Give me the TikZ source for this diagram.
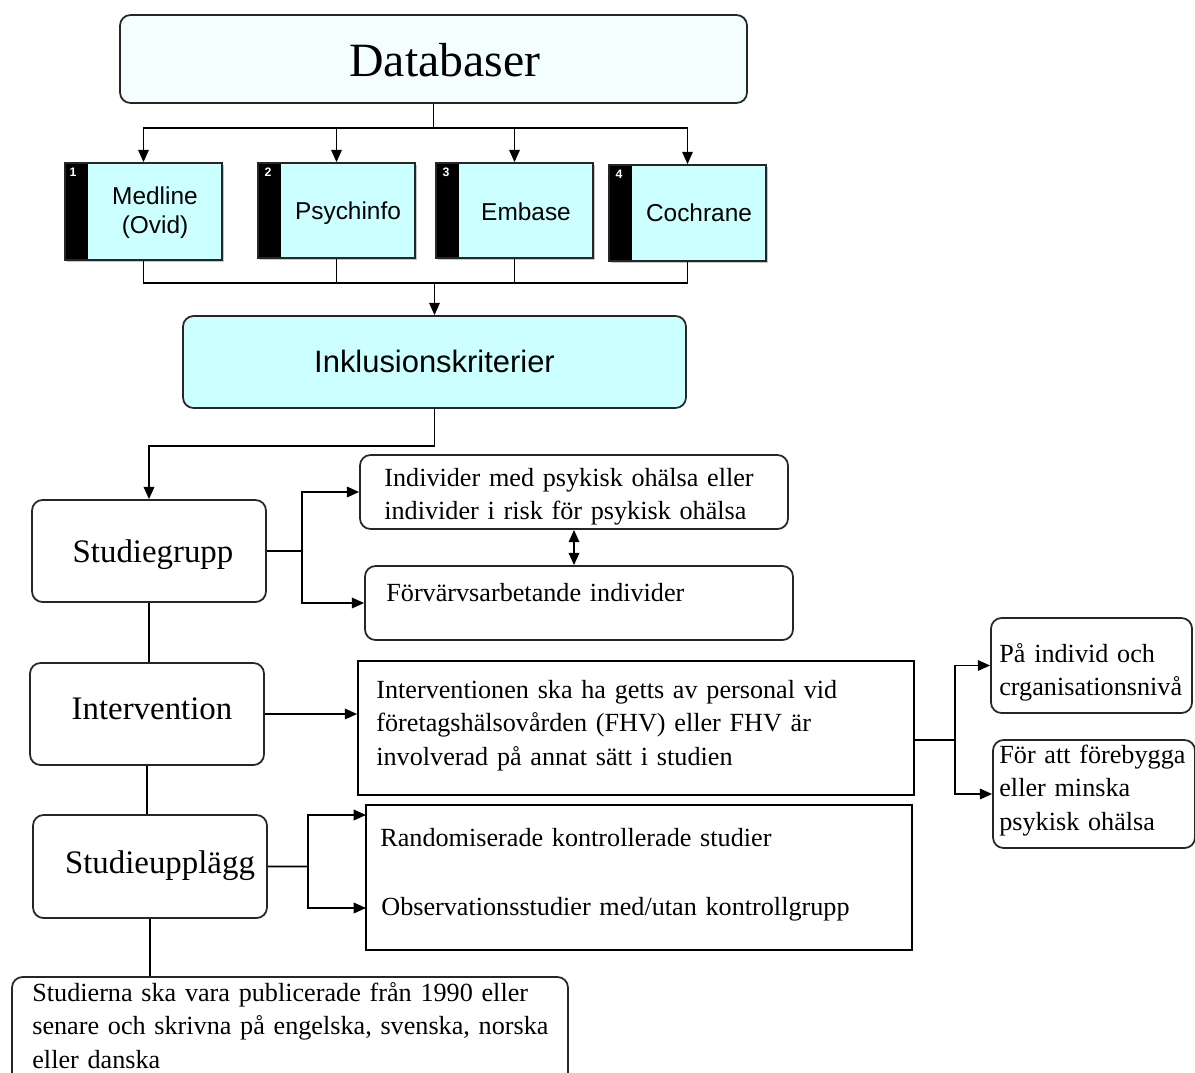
\documentclass[tikz,border=0pt]{standalone}
\usepackage{fontspec}
\setmainfont{Liberation Serif}[WordSpace=0.85]
\setsansfont{Liberation Sans}
\usetikzlibrary{fit,arrows.meta,shadows}

\definecolor{dbcyan}{RGB}{204,255,255}
\definecolor{topcyan}{RGB}{243,255,255}

\begin{document}
\begin{tikzpicture}[x=0.02cm, y=-0.02cm, >={Triangle[length=7pt,width=6pt]},
		rbox/.style={draw=black!85, line width=1pt, rounded corners=6pt, inner sep=0pt},
		sbox/.style={draw=black, line width=1pt, inner sep=0pt},
		dbbox/.style={draw=black!85, fill=dbcyan, line width=1pt, inner sep=0pt,
			drop shadow={shadow xshift=1.2pt, shadow yshift=-1.2pt, fill=black!45},
			path picture={\fill[black] (path picture bounding box.north west) rectangle ([xshift=0.46cm]path picture bounding box.south west);}},
		num/.style={text=white, font=\sffamily\bfseries\fontsize{7}{8}\selectfont, inner sep=0pt},
		dbtext/.style={font=\sffamily\fontsize{13.9}{16.4}\selectfont, align=center},
		lbl/.style={font=\fontsize{18.7}{22}\selectfont},
		txt/.style={font=\fontsize{14.9}{19.3}\selectfont, align=left, text width=12cm, inner sep=0pt, anchor=base west},
		line/.style={line width=1pt},
		arr/.style={line width=1pt, ->}]
	\useasboundingbox (0,0) rectangle (1195,1072);
	\clip (0,0) rectangle (1195,1072);

	% top box
	\node[rbox, fill=topcyan, fit={(120,15) (747,103)}] (DB) {};
	\node[font=\fontsize{27.2}{32}\selectfont] at (445,60) {Databaser};

	% the four databases
	\node[dbbox, fit={(65,163) (222,260)}] (Med) {};
	\node[dbbox, fit={(258,163) (415,258)}] (Psy) {};
	\node[dbbox, fit={(436,163) (593,258)}] (Emb) {};
	\node[dbbox, fit={(609,165) (766,261)}] (Coc) {};
	\node[num] at (73,172) {1};
	\node[num] at (268,172) {2};
	\node[num] at (446,172) {3};
	\node[num] at (619,174) {4};
	\node[dbtext] at (155,213) {Medline\\(Ovid)};
	\node[dbtext] at (348,213) {Psychinfo};
	\node[dbtext] at (526,212) {Embase};
	\node[dbtext] at (699,213) {Cochrane};

	\coordinate (dbsplit) at (433.5,128);
	\draw[line] (DB.south) -- (dbsplit);
	\draw[arr] (dbsplit) -| (Med.north);
	\draw[arr] (dbsplit) -| (Psy.north);
	\draw[arr] (dbsplit) -| (Emb.north);
	\draw[arr] (dbsplit) -| (Coc.north);

	\node[rbox, fill=dbcyan, fit={(183,316) (686,408)}] (Ink) {};
	\node[font=\sffamily\fontsize{17.6}{21}\selectfont] at (434.5,361) {Inklusionskriterier};

	\coordinate (dbjoin) at (434.5,283);
	\draw[line] (Med.south) |- (dbjoin);
	\draw[line] (Psy.south) |- (dbjoin);
	\draw[line] (Emb.south) |- (dbjoin);
	\draw[line] (Coc.south) |- (dbjoin);
	\draw[arr] (dbjoin) -- (Ink.north);

	% Studiegrupp
	\node[rbox, fit={(32,500) (266,602)}] (Stud) {};
	\node[lbl] at (153,555) {Studiegrupp};
	\draw[arr] (Ink.south) -- ++(0,37) -| (Stud.north);

	\node[rbox, fit={(360,455) (788,529)}] (Ind) {};
	\node[txt] at (384,486) {Individer med psykisk ohälsa eller\\individer i risk för psykisk ohälsa};
	\node[rbox, fit={(365,566) (793,640)}] (Forv) {};
	\node[txt] at (386,601) {Förvärvsarbetande individer};

	\coordinate (sgsplit) at (302,551);
	\draw[line] (Stud.east) -- (sgsplit);
	\draw[arr] (sgsplit) |- (Ind.west);
	\draw[arr] (sgsplit) |- (Forv.west);
	\draw[line, <->] (Ind.south) -- (Ind.south |- Forv.north);

	% Intervention
	\node[rbox, fit={(30,663) (264,765)}] (Int) {};
	\node[lbl] at (152,709) {Intervention};
	\draw[line] (Stud.south) -- (Stud.south |- Int.north);

	\node[sbox, fit={(358,661) (914,795)}] (FHV) {};
	\node[txt] at (376,698) {Interventionen ska ha getts av personal vid\\företagshälsovården (FHV) eller FHV är\\involverad på annat sätt i studien};
	\draw[arr] (Int.east) -- (Int.east -| FHV.west);

	\node[rbox, fit={(991,618) (1192,713)}] (Niva) {};
	\node[txt] at (999,662) {På individ och\\crganisationsnivå};
	\node[rbox, fit={(993,740) (1195,848)}] (Forb) {};
	\node[txt] at (999,763) {För att förebygga\\eller minska\\psykisk ohälsa};

	\coordinate (fhvsplit) at (955,740);
	\draw[line] (fhvsplit -| FHV.east) -- (fhvsplit);
	\draw[arr] (fhvsplit) |- (Niva.west);
	\draw[arr] (fhvsplit) |- (Forb.west);

	% Studieupplägg
	\node[rbox, fit={(33,815) (267,918)}] (Upp) {};
	\node[lbl] at (160,866) {Studieupplägg};
	\draw[line] (Int.south) -- (Int.south |- Upp.north);

	\node[sbox, fit={(366,805) (912,950)}] (Rand) {};
	\node[txt] at (380,846) {Randomiserade kontrollerade studier};
	\node[txt] at (381,915) {Observationsstudier med/utan kontrollgrupp};

	\coordinate (upsplit) at (308,866.5);
	\coordinate (randin) at (366,815);
	\coordinate (obsin) at (366,908);
	\draw[line] (Upp.east) -- (upsplit);
	\draw[arr] (upsplit) |- (randin);
	\draw[arr] (upsplit) |- (obsin);

	% publication
	\node[rbox, fit={(12,977) (568,1100)}] (Pub) {};
	\node[txt] at (32,1001) {Studierna ska vara publicerade från 1990 eller\\senare och skrivna på engelska, svenska, norska\\eller danska};
	\draw[line] (Upp.south) -- (Upp.south |- Pub.north);
\end{tikzpicture}
\end{document}
